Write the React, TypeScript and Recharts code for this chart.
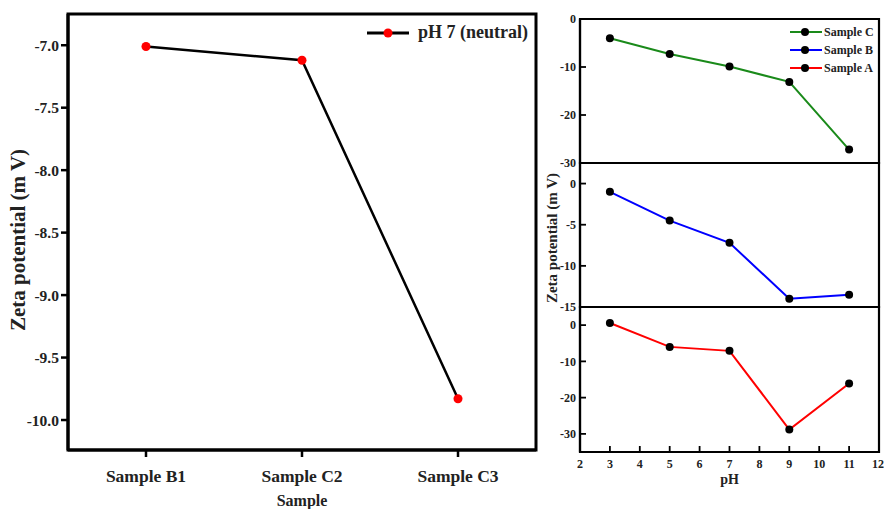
import React from 'react';
import { LineChart, Line, XAxis, YAxis, Label, ReferenceArea } from 'recharts';

const samples = ['Sample B1', 'Sample C2', 'Sample C3'];
const sampleIdx = [0, 1, 2];
const ph7Values = [-7.01, -7.12, -9.83];
const leftTicks = [-7.0, -7.5, -8.0, -8.5, -9.0, -9.5, -10.0];
const leftDomain = [-10.24, -6.75];
const leftXDomain = [-0.5, 2.5];

const phValues = [3, 5, 7, 9, 11];
const sampleC = [-4.0, -7.3, -9.9, -13.1, -27.2];
const sampleB = [-1.0, -4.5, -7.2, -14.0, -13.5];
const sampleA = [0.6, -6.0, -7.1, -28.8, -16.1];
const phTicks = [2, 3, 4, 5, 6, 7, 8, 9, 10, 11, 12];
const phDomain = [2, 12];
const ticksC = [0, -10, -20, -30];
const ticksB = [0, -5, -10, -15];
const ticksA = [0, -10, -20, -30];

const FONT = "'Liberation Serif', 'Times New Roman', serif";
const INK = '#000000';

const leftData = sampleIdx.map((x, i) => ({ x, v: ph7Values[i] }));
const dataC = phValues.map((p, i) => ({ ph: p, v: sampleC[i] }));
const dataB = phValues.map((p, i) => ({ ph: p, v: sampleB[i] }));
const dataA = phValues.map((p, i) => ({ ph: p, v: sampleA[i] }));

const tickFont = { fontFamily: FONT, fontWeight: 'bold', fontSize: 12, fill: '#222' };

const RightPanel = ({ data, color, domain, ticks, top, height, margin, bottom, yLabel }: any) => (
  <div style={{ position: 'absolute', left: 540, top, width: 344, height }}>
    <LineChart width={344} height={height} data={data} margin={margin}>
      <XAxis
        dataKey="ph"
        type="number"
        domain={phDomain}
        ticks={phTicks}
        allowDataOverflow
        hide={!bottom}
        height={40}
        tick={tickFont}
        tickSize={-6}
        tickMargin={13}
        tickLine={{ stroke: INK, strokeWidth: 1.8 }}
        axisLine={{ stroke: INK, strokeWidth: 2.2 }}
      >
        {bottom ? (
          <Label value="pH" position="insideBottom" offset={8} style={{ fontFamily: FONT, fontWeight: 'bold', fontSize: 14, fill: '#222' }} />
        ) : null}
      </XAxis>
      <YAxis
        type="number"
        domain={domain}
        ticks={ticks}
        allowDataOverflow
        width={40}
        tick={tickFont}
        tickSize={-6}
        tickMargin={10}
        tickLine={{ stroke: INK, strokeWidth: 1.8 }}
        axisLine={{ stroke: INK, strokeWidth: 2.2 }}
      >
        {yLabel ? (
          <Label
            content={(p: any) => {
              const vb = p.viewBox || { x: 0, y: 13, width: 40, height: 144 };
              const cx = 12;
              const cy = vb.y + vb.height / 2 + 3;
              return (
                <text x={cx} y={cy} transform={`rotate(-90, ${cx}, ${cy})`} textAnchor="middle" dominantBaseline="central" fontFamily={FONT} fontWeight="bold" fontSize={15} fill="#222">
                  Zeta potential (m V)
                </text>
              );
            }}
          />
        ) : null}
      </YAxis>
      <ReferenceArea x1={phDomain[0]} x2={phDomain[1]} y1={domain[0]} y2={domain[1]} fill="none" stroke={INK} strokeWidth={2.2} fillOpacity={0} ifOverflow="visible" />
      <Line
        dataKey="v"
        stroke={color}
        strokeWidth={2}
        dot={{ r: 4, fill: '#000', stroke: '#000', strokeWidth: 0 }}
        isAnimationActive={false}
      />
    </LineChart>
  </div>
);

const legendItems = [
  { name: 'Sample C', color: '#1a8a1a' },
  { name: 'Sample B', color: '#0000ff' },
  { name: 'Sample A', color: '#ff0000' },
];

export default function App() {
  return (
    <div style={{ position: 'absolute', left: 0, top: 0, width: 884, height: 509, background: '#fff', overflow: 'hidden' }}>
      <div style={{ position: 'absolute', left: 0, top: 0, width: 560, height: 509 }}>
        <LineChart width={560} height={509} data={leftData} margin={{ top: 14, right: 24, left: 8, bottom: 0 }}>
          <XAxis
            dataKey="x"
            type="number"
            domain={leftXDomain}
            ticks={sampleIdx}
            allowDataOverflow
            tickFormatter={(v: number) => samples[v] ?? ''}
            height={59}
            tickSize={7}
            tickMargin={13}
            tickLine={{ stroke: INK, strokeWidth: 2.5 }}
            axisLine={{ stroke: INK, strokeWidth: 3 }}
            tick={{ fontFamily: FONT, fontWeight: 'bold', fontSize: 17.5, fill: '#222' }}
          >
            <Label value="Sample" position="insideBottom" offset={3} style={{ fontFamily: FONT, fontWeight: 'bold', fontSize: 16, fill: '#222' }} />
          </XAxis>
          <YAxis
            type="number"
            domain={leftDomain}
            ticks={leftTicks}
            allowDataOverflow
            width={60}
            tickSize={7}
            tickMargin={2}
            tickFormatter={(v: number) => v.toFixed(1)}
            tickLine={{ stroke: INK, strokeWidth: 2.5 }}
            axisLine={{ stroke: INK, strokeWidth: 3 }}
            tick={{ fontFamily: FONT, fontWeight: 'bold', fontSize: 15.5, fill: '#222' }}
          >
            <Label
              content={(p: any) => {
                const vb = p.viewBox || { x: 8, y: 14, width: 60, height: 436 };
                const cx = 18;
                const cy = vb.y + vb.height / 2 + 8;
                return (
                  <text x={cx} y={cy} transform={`rotate(-90, ${cx}, ${cy})`} textAnchor="middle" dominantBaseline="central" fontFamily={FONT} fontWeight="bold" fontSize={21} fill="#222">
                    Zeta potential (m V)
                  </text>
                );
              }}
            />
          </YAxis>
          <ReferenceArea x1={leftXDomain[0]} x2={leftXDomain[1]} y1={leftDomain[0]} y2={leftDomain[1]} fill="none" fillOpacity={0} stroke={INK} strokeWidth={3} ifOverflow="visible" />
          <Line
            dataKey="v"
            stroke="#000"
            strokeWidth={2.5}
            dot={{ r: 4.5, fill: '#ff0000', stroke: '#ff0000', strokeWidth: 0 }}
            isAnimationActive={false}
          />
        </LineChart>
        <div style={{ position: 'absolute', left: 366, top: 22, display: 'flex', alignItems: 'center', fontFamily: FONT, fontWeight: 'bold', fontSize: 18, color: '#222', whiteSpace: 'nowrap' }}>
          <svg width={44} height={12} style={{ marginRight: 8 }}>
            <line x1={1} x2={43} y1={6} y2={6} stroke="#000" strokeWidth={3} />
            <circle cx={22} cy={6} r={4.5} fill="#ff0000" />
          </svg>
          <span>pH 7 (neutral)</span>
        </div>
      </div>

      <RightPanel data={dataC} color="#1a8a1a" domain={[-30, 0]} ticks={ticksC} top={0} height={172} margin={{ top: 19, right: 5, left: 0, bottom: 9 }} />
      <RightPanel data={dataB} color="#0000ff" domain={[-15, 2.5]} ticks={ticksB} top={150} height={170} margin={{ top: 13, right: 5, left: 0, bottom: 13 }} yLabel />
      <RightPanel data={dataA} color="#ff0000" domain={[-35, 5]} ticks={ticksA} top={295} height={214} margin={{ top: 12, right: 5, left: 0, bottom: 17 }} bottom />

      <div style={{ position: 'absolute', left: 789, top: 23, fontFamily: FONT, fontWeight: 'bold', fontSize: 12, color: '#222' }}>
        {legendItems.map((it) => (
          <div key={it.name} style={{ display: 'flex', alignItems: 'center', height: 18, whiteSpace: 'nowrap' }}>
            <svg width={34} height={10} style={{ marginRight: 1 }}>
              <line x1={1} x2={33} y1={5} y2={5} stroke={it.color} strokeWidth={2} />
              <circle cx={16} cy={5} r={4} fill="#000" />
            </svg>
            <span>{it.name}</span>
          </div>
        ))}
      </div>
    </div>
  );
}
